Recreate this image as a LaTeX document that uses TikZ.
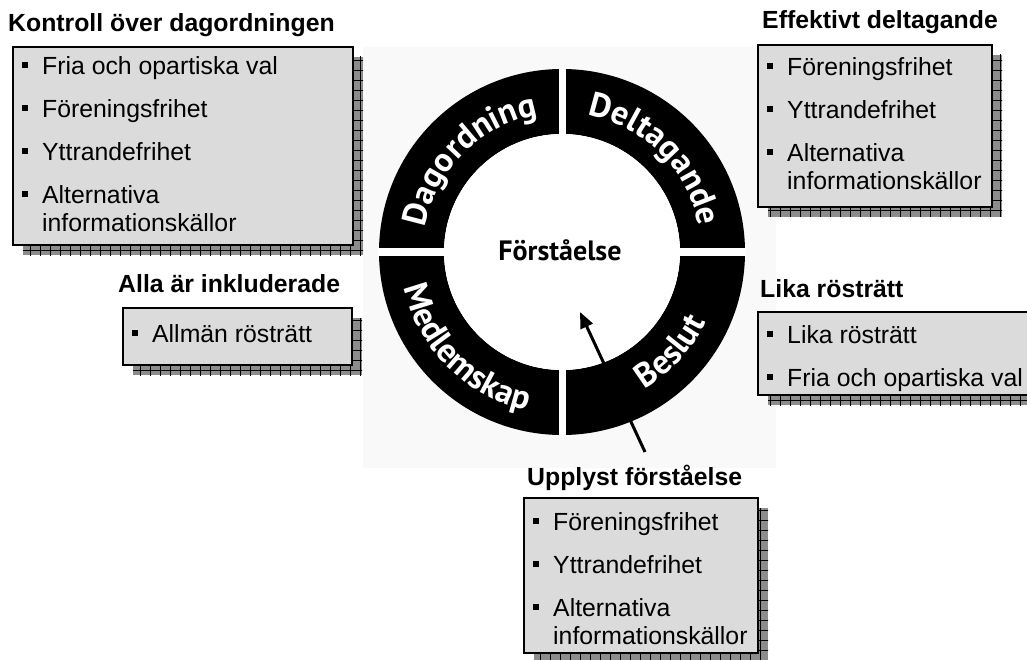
\documentclass[tikz,border=0pt]{standalone}
\usepackage{fontspec}
\setmainfont{Liberation Sans}
\newfontfamily\ringfont{PT Sans}
\usetikzlibrary{decorations.text,arrows.meta}

\definecolor{boxgray}{gray}{0.86}
\definecolor{shadowgray}{gray}{0.55}
\definecolor{backgray}{gray}{0.975}

\newcommand\topstrut{\rule{0pt}{26pt}}
\newcommand\itm{\makebox[20pt][l]{\rule[6.5pt]{6pt}{6pt}}}
\newcommand\cont{\hspace*{20pt}}
\newcommand\shadowed[1]{%
    \begin{scope}[shift={(10,-10)}]
        \fill[shadowgray] #1;
        \clip #1;
        \draw[line width=0.8, step=10] (0,0) grid (1100,-700);
    \end{scope}
    \draw[boxframe] #1;}

\def\dagbox{(13,-47) rectangle (353,-245)}
\def\delbox{(758,-45) rectangle (992,-207)}
\def\medbox{(123,-308) rectangle (352,-365)}
\def\besbox{(758,-312) rectangle (1050,-395)}
\def\forbox{(524,-498) rectangle (758,-653)}

\tikzset{
    boxframe/.style={fill=boxgray, draw=black, line width=2},
    boxtext/.style={anchor=north west, inner sep=0, align=left, font=\fontsize{24.8}{28}\selectfont},
    headtext/.style={anchor=base west, inner sep=0, font=\fontsize{24.8}{28}\selectfont\bfseries},
    ringtext/.style={decorate, decoration={text along path, text align=center, text color=white,
        text={|\ringfont\bfseries\fontsize{34}{38}\selectfont|#1}}}
}

\begin{document}
\begin{tikzpicture}[x=1pt, y=1pt]
    \useasboundingbox (0,0) rectangle (1027,-660);
    \clip (0,0) rectangle (1027,-660);

    \fill[backgray] (363,-47) rectangle (776,-468);
    \coordinate (ctr) at (562,-252);
    \fill[black, even odd rule] (ctr) circle[radius=183] (ctr) circle[radius=118];
    \draw[white, line width=7] (ctr) ++(-184,0) -- ++(368,0);
    \draw[white, line width=7] (ctr) ++(0,-184) -- ++(0,368);
    \fill[white] (ctr) circle[radius=118];

    \path[ringtext=Dagordning] (ctr) ++(200:139) arc[start angle=200, end angle=70, radius=139];
    \path[ringtext=Deltagande] (ctr) ++(110:139) arc[start angle=110, end angle=-20, radius=139];
    \path[ringtext=Medlemskap] (ctr) ++(160:162) arc[start angle=160, end angle=290, radius=162];
    \path[ringtext=Beslut] (ctr) ++(255:160) arc[start angle=255, end angle=380, radius=160];
    \node[font=\ringfont\bfseries\fontsize{28}{32}\selectfont] (forst) at (560,-250) {Förståelse};

    \shadowed{\dagbox}
    \shadowed{\delbox}
    \shadowed{\medbox}
    \shadowed{\besbox}
    \shadowed{\forbox}

    \node[headtext] (kontroll) at (8,-32) {Kontroll över dagordningen};
    \node[headtext] (effektivt) at (762,-29) {Effektivt deltagande};
    \node[headtext] (alla) at (118,-292) {Alla är inkluderade};
    \node[headtext] (lika) at (760,-297) {Lika rösträtt};
    \node[headtext] (upplyst) at (527,-485) {Upplyst förståelse};

    \node[boxtext] (dagitems) at (22,-48) {\topstrut\itm Fria och opartiska val\\[15pt]
        \itm Föreningsfrihet\\[15pt] \itm Yttrandefrihet\\[15pt] \itm Alternativa\\ \cont informationskällor};
    \node[boxtext] (delitems) at (767,-49) {\topstrut\itm Föreningsfrihet\\[15pt]
        \itm Yttrandefrihet\\[15pt] \itm Alternativa\\ \cont informationskällor};
    \node[boxtext] (meditems) at (132,-316) {\topstrut\itm Allmän rösträtt};
    \node[boxtext] (besitems) at (767,-317) {\topstrut\itm Lika rösträtt\\[15pt] \itm Fria och opartiska val};
    \node[boxtext] (foritems) at (533,-504) {\topstrut\itm Föreningsfrihet\\[15pt]
        \itm Yttrandefrihet\\[15pt] \itm Alternativa\\ \cont informationskällor};

    \coordinate (tail) at (645,-452);
    \coordinate (tip) at (580,-312);
    \draw[line width=3, -{Triangle[length=16pt, width=13pt]}] (tail) -- (tip);
\end{tikzpicture}
\end{document}
